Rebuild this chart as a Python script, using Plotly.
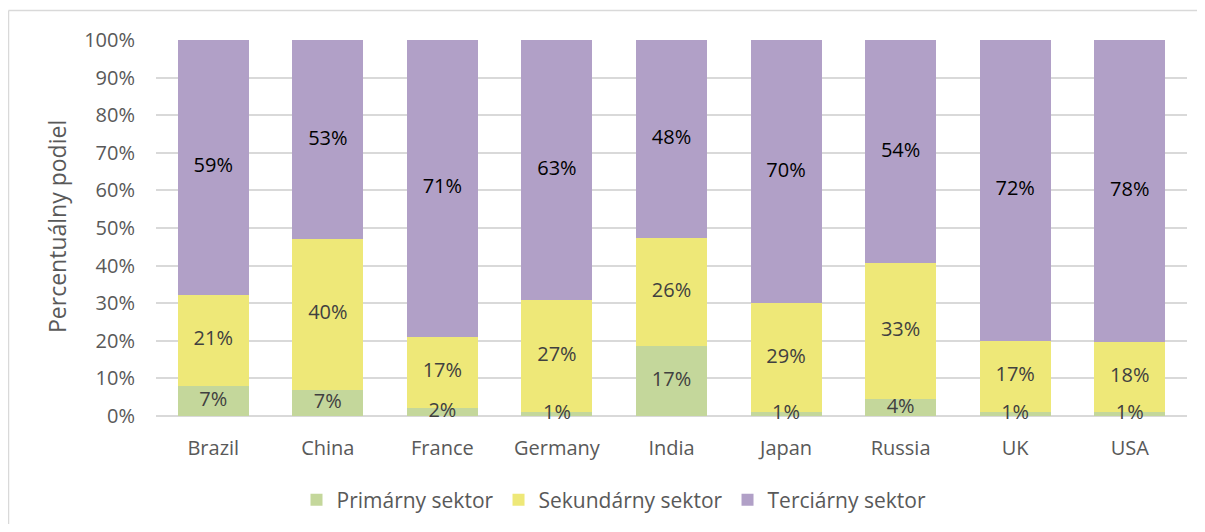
import numpy as np
import plotly.graph_objects as go

countries = ["Brazil", "China", "France", "Germany", "India", "Japan", "Russia", "UK", "USA"]
primary = [7, 7, 2, 1, 17, 1, 4, 1, 1]
secondary = [21, 40, 17, 27, 26, 29, 33, 17, 18]
tertiary = [59, 53, 71, 63, 48, 70, 54, 72, 78]
series_names = ["Primárny sektor", "Sekundárny sektor", "Terciárny sektor"]
y_ticks = [0, 10, 20, 30, 40, 50, 60, 70, 80, 90, 100]

colors = ["#C4D79B", "#EEE878", "#B1A0C7"]
label_colors = ["#404040", "#404040", "#000000"]
FONT = "Open Sans"
FS = 20

# page has an 8px body margin; figure coordinates = page coordinates - 8
OFF = 8
W, H = 1189, 516
L, R, T, B = 156 - OFF, W - (1187 - OFF), 40 - OFF, H - (416 - OFF)
pw, ph = W - L - R, H - T - B

def px(x):
    return (x - OFF - L) / pw

def py(y):
    return (H - B - (y - OFF)) / ph

series = [primary, secondary, tertiary]
data = np.array(series, dtype=float)
share = data / data.sum(axis=0) * 100
tops = np.cumsum(share, axis=0)
mids = tops - share / 2

fig = go.Figure()
for name, vals, col in zip(series_names, series, colors):
    fig.add_trace(go.Bar(
        x=countries, y=vals, name=name,
        marker=dict(color=col, line=dict(width=0)),
        hoverinfo="x+y+name",
    ))
for i, (vals, lc) in enumerate(zip(series, label_colors)):
    fig.add_trace(go.Scatter(
        x=countries, y=mids[i], mode="text",
        text=[f"{v}%" for v in vals],
        textposition="middle center",
        textfont=dict(family=FONT, size=FS, color=lc),
        showlegend=False, hoverinfo="skip", cliponaxis=False,
    ))

fig.update_layout(
    width=W, height=H,
    barmode="stack", barnorm="percent", bargap=0.38,
    margin=dict(l=L, r=R, t=T, b=B, autoexpand=False),
    paper_bgcolor="white", plot_bgcolor="white",
    font=dict(family=FONT, color="#595959", size=FS),
    showlegend=True,
    legend=dict(orientation="h", x=px(614), xanchor="center", y=py(500), yanchor="middle",
                font=dict(family=FONT, size=21, color="#595959"),
                itemwidth=30, traceorder="normal"),
    xaxis=dict(showgrid=False, showline=False, ticks="", ticklabelstandoff=18, automargin=False,
               tickfont=dict(family=FONT, size=FS, color="#595959")),
    yaxis=dict(range=[0, 100], tickvals=y_ticks, ticktext=[f"{v}%" for v in y_ticks],
               showgrid=True, gridcolor="#D9D9D9", gridwidth=1.5, zeroline=True,
               zerolinecolor="#D9D9D9", zerolinewidth=1.5, showline=False, ticks="",
               ticklabelstandoff=20, automargin=False,
               tickfont=dict(family=FONT, size=FS, color="#595959")),
    annotations=[dict(text="Percentuálny podiel", x=px(57), y=py(227), xref="paper", yref="paper",
                      textangle=-90, showarrow=False, xanchor="center", yanchor="middle",
                      font=dict(family=FONT, size=23, color="#595959"))],
    shapes=[
        dict(type="line", xref="paper", yref="paper", x0=px(8.5), x1=px(8.5), y0=py(540), y1=py(10.5),
             line=dict(color="#D9D9D9", width=1.5)),
        dict(type="line", xref="paper", yref="paper", x0=px(8.5), x1=px(1210), y0=py(10.5), y1=py(10.5),
             line=dict(color="#D9D9D9", width=1.5)),
    ],
)

fig.write_html("out.html")
